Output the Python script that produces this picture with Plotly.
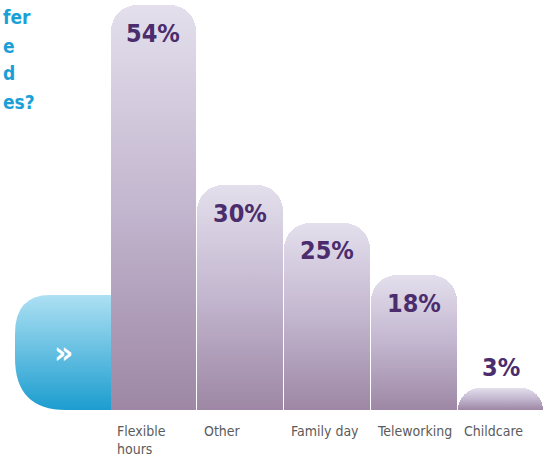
import plotly.graph_objects as go

# ---- data ----
categories = ["Flexible<br>hours", "Other", "Family day", "Teleworking", "Childcare"]
values = [54, 30, 25, 18, 3]
value_labels = ["54%", "30%", "25%", "18%", "3%"]
title_fragments = ["fer", "e", "d", "es?"]

W, H = 544, 458
ML, MR, MT, MB = 110, 0, 5, 48
PW, PH = W - ML - MR, H - MT - MB

def px_x(p):
    return (p - ML) / PW

def px_y(p):
    return (H - MB - p) / PH

COND = "DejaVu Sans Condensed, Liberation Sans Narrow, Arial Narrow, sans-serif"

xs = list(range(len(values)))
fig = go.Figure()
fig.add_trace(go.Bar(
    x=xs, y=values, width=0.985,
    marker=dict(color="#b8a8c4", line=dict(width=0), cornerradius=26),
    hoverinfo="skip",
))

annotations = []
# percentage labels
for i, (v, t) in enumerate(zip(values, value_labels)):
    annotations.append(dict(
        x=i, y=v, xref="x", yref="y", text=t, showarrow=False,
        yanchor="middle", xanchor="center",
        yshift=-28 if v >= 10 else 20,
        font=dict(family=COND, size=25, color="#4b2d6d", weight="bold"),
    ))
# category labels (left aligned under each bar)
for i, c in enumerate(categories):
    annotations.append(dict(
        x=i - 0.5, y=px_y(421), xref="x", yref="paper",
        text=c, showarrow=False, xanchor="left", yanchor="top",
        xshift=5, align="left",
        font=dict(family=COND, size=14, color="#5b5b5b"),
    ))
# cropped title fragments (top left)
title_cy = [17, 46, 73, 102]
for t, cy in zip(title_fragments, title_cy):
    annotations.append(dict(
        x=px_x(1), y=px_y(cy), xref="paper", yref="paper", text=t,
        showarrow=False, xanchor="left", yanchor="middle",
        font=dict(family=COND, size=19, color="#1b9fd7", weight="bold"),
    ))
# chevron on blue tab
annotations.append(dict(
    x=px_x(63), y=px_y(352), xref="paper", yref="paper", text="»",
    showarrow=False, xanchor="center", yanchor="middle",
    font=dict(family="DejaVu Sans, sans-serif", size=30, color="white", weight="bold"),
))

# blue decorative tab behind the first bar
pts = [(120, 295), (50, 295), (15, 295), (15, 334), (15, 358), (15, 410), (66, 410), (120, 410)]
P = [(px_x(a), px_y(b)) for a, b in pts]
path = (f"M {P[0][0]},{P[0][1]} L {P[1][0]},{P[1][1]} Q {P[2][0]},{P[2][1]} {P[3][0]},{P[3][1]} "
        f"L {P[4][0]},{P[4][1]} Q {P[5][0]},{P[5][1]} {P[6][0]},{P[6][1]} L {P[7][0]},{P[7][1]} Z")
shapes = [dict(type="path", path=path, xref="paper", yref="paper", layer="below",
               fillcolor="#5bbbe2", line=dict(width=0))]

fig.update_layout(
    width=W, height=H,
    margin=dict(l=ML, r=MR, t=MT, b=MB, pad=0),
    paper_bgcolor="white", plot_bgcolor="rgba(0,0,0,0)",
    showlegend=False, bargap=0,
    xaxis=dict(range=[-0.5, len(values) - 0.5], visible=False, fixedrange=True),
    yaxis=dict(range=[0, max(values)], visible=False, fixedrange=True),
    annotations=annotations, shapes=shapes,
    hovermode=False,
)

post = """
var gd = document.getElementById('{plot_id}');
var svg = gd.querySelector('svg.main-svg');
var ns = 'http://www.w3.org/2000/svg';
var defs = svg.querySelector('defs');
if (!defs) { defs = document.createElementNS(ns, 'defs'); svg.insertBefore(defs, svg.firstChild); }
function grad(id, stops) {
  var g = document.createElementNS(ns, 'linearGradient');
  g.setAttribute('id', id);
  g.setAttribute('x1', '0'); g.setAttribute('y1', '0');
  g.setAttribute('x2', '0'); g.setAttribute('y2', '1');
  stops.forEach(function(s) {
    var st = document.createElementNS(ns, 'stop');
    st.setAttribute('offset', s[0]); st.setAttribute('stop-color', s[1]);
    g.appendChild(st);
  });
  defs.appendChild(g);
}
grad('barGrad', [['0', '#e3dfec'], ['0.5', '#c3b6cf'], ['1', '#9d87a4']]);
grad('blueGrad', [['0', '#ade0f3'], ['1', '#1c9dcf']]);
gd.querySelectorAll('.bars .point path').forEach(function(p) { p.style.fill = 'url(#barGrad)'; });
gd.querySelectorAll('.shapelayer path').forEach(function(p) { p.style.fill = 'url(#blueGrad)'; });
"""

fig.write_html("out.html", post_script=post, config={"displayModeBar": False})
